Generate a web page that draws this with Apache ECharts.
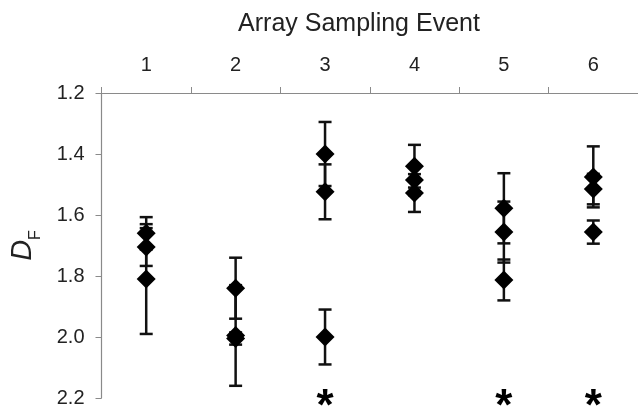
<!DOCTYPE html>
<html>
<head>
<meta charset="utf-8">
<script src="https://cdn.jsdelivr.net/npm/echarts@6/dist/echarts.min.js"></script>
<style>
  html, body { margin: 0; padding: 0; background: #fff; }
  #chart { width: 638px; height: 408px; }
</style>
</head>
<body>
<div id="chart"></div>
<script>
// 数据
const eventLabels = ['1', '2', '3', '4', '5', '6'];
const dfEvent = [0, 0, 0, 1, 1, 1, 2, 2, 2, 3, 3, 3, 4, 4, 4, 5, 5, 5];
const dfMean = [1.66, 1.705, 1.81, 1.84, 1.995, 2.005, 1.40, 1.524, 2.00, 1.44, 1.485, 1.528, 1.578, 1.656, 1.813, 1.475, 1.515, 1.656];
const dfErr = [0.053, 0.062, 0.18, 0.10, 0.165, 0.02, 0.105, 0.09, 0.09, 0.07, 0.05, 0.062, 0.115, 0.10, 0.067, 0.10, 0.05, 0.038];
const starEvents = ['3', '5', '6'];
const yTicks = [1.2, 1.4, 1.6, 1.8, 2.0, 2.2];

const font = 'Liberation Sans';
const axisGray = '#8a8a8a';

const points = dfMean.map((v, i) => [dfEvent[i], v]);
const bars = dfMean.map((v, i) => [dfEvent[i], v - dfErr[i], v + dfErr[i]]);
const stars = starEvents.map(c => [eventLabels.indexOf(c), yTicks[yTicks.length - 1]]);

let charts = echarts.init(document.getElementById('chart'));
charts.setOption({
    animation: false,
    title: {
        text: 'Array Sampling Event',
        left: 354,
        top: 7,
        textAlign: 'center',
        textStyle: { fontFamily: font, fontSize: 25, fontWeight: 'normal', color: '#222' }
    },
    grid: { left: 101, right: -1, top: 93, bottom: 10 },
    xAxis: {
        type: 'category',
        position: 'top',
        data: eventLabels,
        boundaryGap: true,
        axisLine: { lineStyle: { color: axisGray, width: 1.2 } },
        axisTick: { show: true, length: 6, lineStyle: { color: axisGray } },
        axisLabel: { fontFamily: font, fontSize: 20, color: '#222', margin: 18 },
        splitLine: { show: false }
    },
    yAxis: {
        type: 'value',
        inverse: true,
        min: 1.2,
        max: 2.2,
        interval: 0.2,
        name: '{d|D}{f|F}',
        nameLocation: 'middle',
        nameGap: 64,
        nameTextStyle: {
            rich: {
                d: { fontFamily: font, fontSize: 29, fontStyle: 'italic', color: '#222', lineHeight: 30 },
                f: { fontFamily: font, fontSize: 16, color: '#222', lineHeight: 30, verticalAlign: 'bottom', padding: [0, 0, -6, 0] }
            }
        },
        axisLine: { show: true, lineStyle: { color: axisGray, width: 1.2 } },
        axisTick: { show: true, length: 6, lineStyle: { color: axisGray } },
        axisLabel: {
            fontFamily: font, fontSize: 20, color: '#222', margin: 17,
            formatter: v => v.toFixed(1)
        },
        splitLine: { show: false }
    },
    series: [
        {
            type: 'custom',
            z: 1,
            data: bars,
            encode: { x: 0, y: [1, 2] },
            renderItem: function (params, api) {
                const c = api.value(0);
                const p1 = api.coord([c, api.value(1)]);
                const p2 = api.coord([c, api.value(2)]);
                const w = 6.5;
                const st = { stroke: '#111', lineWidth: 2.5 };
                return {
                    type: 'group',
                    children: [
                        { type: 'line', shape: { x1: p1[0], y1: p1[1], x2: p2[0], y2: p2[1] }, style: st },
                        { type: 'line', shape: { x1: p1[0] - w, y1: p1[1], x2: p1[0] + w, y2: p1[1] }, style: st },
                        { type: 'line', shape: { x1: p2[0] - w, y1: p2[1], x2: p2[0] + w, y2: p2[1] }, style: st }
                    ]
                };
            }
        },
        {
            type: 'scatter',
            z: 2,
            symbol: 'diamond',
            symbolSize: [19, 19],
            itemStyle: { color: '#000', opacity: 1 },
            data: points
        },
        {
            type: 'scatter',
            z: 3,
            symbolSize: 0,
            silent: true,
            itemStyle: { opacity: 1 },
            data: stars,
            label: {
                show: true,
                position: 'inside',
                formatter: '*',
                offset: [0, 10],
                fontFamily: font,
                fontSize: 44,
                fontWeight: 'bold',
                color: '#000'
            }
        }
    ]
});
</script>
</body>
</html>
